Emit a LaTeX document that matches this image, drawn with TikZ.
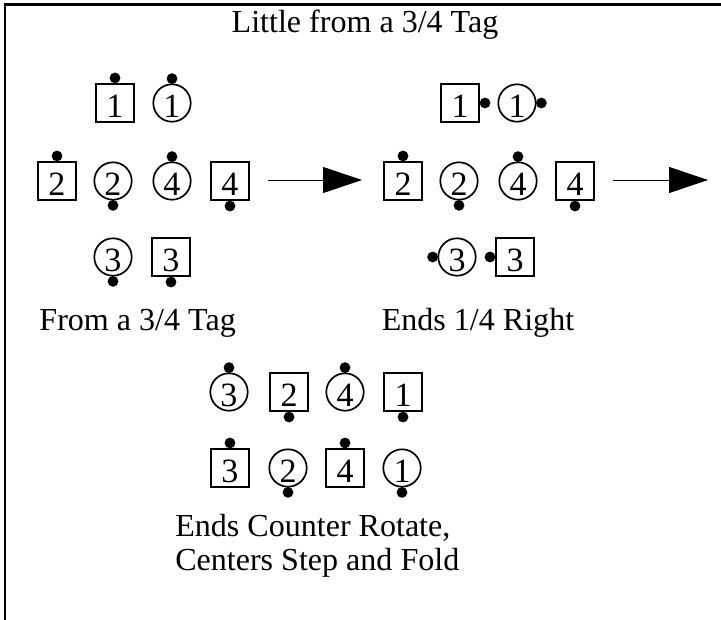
\documentclass[tikz,border=0pt]{standalone}
\usepackage{fontspec}
\setmainfont{Liberation Serif}
\usepackage{tikz}
\usetikzlibrary{arrows.meta,shapes}

\newcommand{\captionfont}{\fontsize{22.8}{23.5}\selectfont}
\newcommand{\dancerfont}{\fontsize{24.2}{26}\selectfont}

\tikzset{
  boy/.style={draw, line width=1.7pt, minimum size=0.95cm, inner sep=0pt, text height=20pt, text depth=0pt, font=\dancerfont},
  girl/.style={circle, draw, line width=1.2pt, minimum size=0.935cm, inner sep=0pt, text height=20pt, text depth=0pt, font=\dancerfont},
  knob/.style={circle, fill, inner sep=0pt, minimum size=0.27cm},
  facing/.style={label={[knob, label distance=-0.6pt]#1:{}}},
  caption/.style={font=\captionfont, inner sep=0pt},
  tagarrow/.style={line width=0.7pt, -{Triangle[length=0.975cm,width=0.65cm]}},
  frame/.style={line width=1.8pt}
}

\begin{document}
\begin{tikzpicture}
        \useasboundingbox (0,0) rectangle (18.025,-15.475);
        \draw[frame] (0.125,-15.8) |- (18.3,-0.1125);
        \node[caption, anchor=base] (title) at (9.125,-0.825) {Little from a 3/4 Tag};
        \foreach \nm/\kind/\x/\y/\num/\dir in {
            bA1/boy/2.875/-2.575/1/north, gA1/girl/4.3/-2.575/1/north,
            bA2/boy/1.425/-4.525/2/north, gA2/girl/2.825/-4.525/2/south,
            gA4/girl/4.3/-4.525/4/north, bA4/boy/5.75/-4.525/4/south,
            gA3/girl/2.825/-6.425/3/south, bA3/boy/4.275/-6.425/3/south,
            bB1/boy/11.5/-2.575/1/east, gB1/girl/12.925/-2.575/1/east,
            bB2/boy/10.075/-4.525/2/north, gB2/girl/11.475/-4.525/2/south,
            gB4/girl/12.95/-4.525/4/north, bB4/boy/14.375/-4.525/4/south,
            gB3/girl/11.425/-6.425/3/west, bB3/boy/12.875/-6.425/3/west,
            gC3/girl/5.725/-9.8/3/north, bC2/boy/7.225/-9.8/2/south,
            gC4/girl/8.625/-9.8/4/north, bC1/boy/10.075/-9.8/1/south,
            bC3/boy/5.75/-11.7/3/north, gC2/girl/7.2/-11.7/2/south,
            bC4/boy/8.625/-11.7/4/north, gC1/girl/10.05/-11.7/1/south}
            \node[\kind, facing=\dir] (\nm) at (\x,\y) {\num};
        \coordinate (arrA1) at (6.7,-4.5);
        \coordinate (arrA2) at (9.05,-4.5);
        \coordinate (arrB1) at (15.325,-4.5);
        \coordinate (arrB2) at (17.7,-4.5);
        \draw[tagarrow] (arrA1) -- (arrA2);
        \draw[tagarrow] (arrB1) -- (arrB2);
        \node[caption, anchor=base] (fromtag) at (3.44,-8.25) {From a 3/4 Tag};
        \node[caption, anchor=base] (endsright) at (11.95,-8.25) {Ends 1/4 Right};
        \node[caption, align=left, anchor=base west] (stepfold) at (4.375,-14.25) {Ends Counter Rotate,\\Centers Step and Fold};
\end{tikzpicture}
\end{document}
